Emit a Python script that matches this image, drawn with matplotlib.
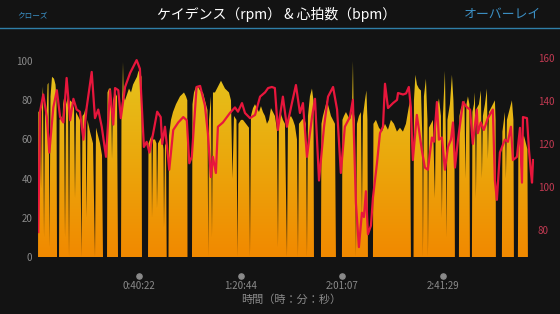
import numpy as np
import matplotlib
matplotlib.use("Agg")
import matplotlib.pyplot as plt
from matplotlib.colors import LinearSegmentedColormap
from matplotlib.patches import Polygon
from matplotlib.lines import Line2D
from matplotlib.transforms import blended_transform_factory

plt.rcParams['font.family'] = ['Noto Sans CJK JP', 'DejaVu Sans']

# cadence (rpm) - time in minutes
cad_t = [0.00, 0.12, 0.80, 1.20, 1.59, 1.99, 2.39, 2.79, 3.39, 3.79, 4.18, 4.58, 4.98, 5.58, 6.38, 6.97, 7.37, 7.57,
         8.37, 8.57, 9.17, 9.76, 10.08, 10.36, 10.76, 11.16, 11.96, 12.35, 12.75, 13.55, 14.35, 14.74, 15.14, 15.94,
         16.74, 17.33, 17.73, 18.33, 18.93, 19.33, 19.73, 20.72, 21.92, 22.71, 23.11, 23.91, 24.71, 25.50, 25.90,
         27.50, 27.70, 28.29, 29.09, 29.49, 29.89, 30.68, 31.48, 31.88,
         33.08, 33.27, 33.67, 33.87, 34.15, 34.67, 35.47, 36.26, 37.06, 37.87, 38.65, 39.45, 40.05, 40.65, 41.25, 41.44,
         43.84, 44.03, 44.63, 45.23, 45.43, 45.83, 46.62, 47.22, 47.42, 47.82, 48.62, 49.41, 50.01, 50.21, 50.61, 51.01, 51.29,
         52.00, 52.20, 53.00, 53.80, 54.99, 55.79, 56.59, 57.38, 58.18, 58.98, 59.50, 59.58,
         61.37, 61.57, 62.17, 62.96, 63.76, 64.56, 65.75, 66.55, 67.55, 67.86, 68.14, 68.94, 69.34, 69.74, 70.53, 71.33,
         72.13, 72.93, 73.72, 74.52, 75.32, 76.11, 76.91, 77.51, 78.11, 79.10, 79.50, 79.90, 80.90, 81.69, 82.89, 84.08,
         84.48, 84.88, 85.68, 86.47, 87.27, 88.07, 88.87, 89.66, 90.46, 91.26, 92.05, 92.85, 93.65, 94.44, 95.24, 95.64,
         96.04, 96.84, 97.63, 98.43, 99.23, 99.63, 100.82, 101.62, 102.41, 103.21, 103.61, 104.01, 105.20, 106.00, 106.80,
         107.20, 107.60, 108.39, 109.19, 109.79, 109.99,
         112.78, 112.98, 113.57, 114.37, 115.17, 115.96, 116.76, 117.56, 118.35, 118.75,
         121.14, 121.34, 121.94, 122.74, 123.53, 124.33, 125.13, 125.53, 125.80, 126.32, 126.72, 127.12, 127.92, 128.71,
         129.11, 129.51, 130.31, 130.90, 131.30, 131.50,
         133.50, 133.70, 134.69, 135.89, 137.08, 138.28, 139.48, 140.67, 141.87, 143.06, 144.26, 145.45, 146.65, 147.45,
         148.24, 148.64,
         149.68, 149.84, 150.43, 151.03, 151.83, 152.63, 153.22, 153.42, 153.82, 154.62, 155.22, 155.42, 155.81, 156.61,
         157.41, 158.20, 158.60, 159.40, 159.80, 160.60, 160.99, 161.39, 162.19, 162.59, 162.79, 163.19, 164.18, 164.98,
         165.58, 165.97, 166.17,
         167.77, 167.97, 168.57, 169.36, 169.96, 170.36, 170.76, 171.36, 171.95, 172.15,
         172.95, 173.15, 173.75, 174.14, 174.54, 174.94, 175.74, 176.54, 176.93, 177.33, 178.13, 178.93, 179.32, 179.72,
         180.52, 181.32, 182.11, 182.39, 182.51,
         184.90, 185.10, 185.70, 186.10, 186.50, 186.90, 187.69, 188.49, 188.89, 189.49, 189.69,
         191.28, 191.48, 192.08, 192.48, 192.87, 193.67, 194.47, 195.07, 195.27]
cad = [0, 74, 75, 35, 80, 87, 10, 76, 70, 88, 89, 5, 82, 92, 91, 88, 80, 0,
       0, 70, 72, 70, 81, 78, 10, 78, 82, 0, 80, 79, 76, 30, 74, 72,
       70, 0, 72, 73, 76, 20, 70, 64, 58, 0, 66, 62, 58, 52, 0,
       0, 84, 86, 86, 50, 80, 84, 82, 0,
       0, 75, 85, 99.5, 82, 80, 83, 86, 84, 88, 90, 92, 95, 94, 92, 0,
       0, 58, 60, 62, 20, 60, 60, 58, 25, 58, 60, 62, 55, 15, 58, 57, 0,
       0, 62, 70, 74, 78, 80, 82, 83, 84, 82, 80, 0,
       0, 78, 84, 87, 87, 85, 84, 80, 75, 0, 70, 82, 10, 84, 84, 86,
       88, 90, 88, 86, 85, 84, 80, 40, 72, 70, 0, 68, 70, 70, 68, 66,
       0, 72, 76, 78, 76, 74, 77, 74, 72, 68, 70, 76, 74, 72, 65, 5,
       72, 73, 70, 68, 0, 70, 72, 70, 67, 60, 0, 68, 70, 71, 68,
       0, 72, 82, 86, 80, 0,
       0, 68, 72, 76, 80, 76, 72, 70, 68, 0,
       0, 70, 72, 74, 72, 70, 74, 100, 74, 70, 0, 68, 72, 74,
       20, 72, 80, 85, 70, 0,
       0, 68, 70, 66, 64, 68, 65, 70, 68, 64, 66, 64, 68, 74,
       80, 0,
       0, 80, 93, 88, 86, 85, 60, 0, 82, 91, 70, 0, 66, 68,
       70, 30, 74, 78, 81, 72, 20, 72, 95, 60, 10, 70, 78, 93,
       80, 60, 0,
       0, 72, 76, 78, 80, 40, 78, 82, 78, 0,
       0, 74, 78, 84, 30, 76, 78, 85, 40, 72, 78, 86, 50, 74,
       76, 78, 80, 70, 0,
       0, 64, 70, 74, 40, 70, 74, 78, 80, 70, 0,
       0, 60, 62, 45, 60, 62, 58, 55, 0]

# heart rate (bpm)
hr_t = [0.1, 0.8, 2.1, 3.5, 4.5, 6.1, 7.5, 8.8, 10.1, 11.4, 12.8, 14.1, 15.4, 16.7, 18.1, 19.4, 21.4, 22.7, 24.0,
        25.4, 27.1, 28.7, 30.0, 30.7, 32.0, 33.0, 34.7, 36.7, 39.3, 40.6, 42.2, 43.3, 44.4, 45.9, 47.5, 48.9, 49.5,
        50.6, 51.3, 52.3, 53.9, 55.9, 57.9, 59.3, 60.3, 61.3, 63.2, 64.6, 66.5, 67.7, 68.9, 69.7, 70.9, 71.7, 73.7,
        76.5, 78.5, 79.7, 81.3, 82.5, 84.5, 86.5, 88.5, 90.5, 91.7, 93.2, 94.4, 95.6, 97.6, 99.2, 101.2, 102.8, 104.4,
        105.6, 107.2, 109.2, 110.4, 112.0, 114.0, 115.6, 117.6, 119.2, 120.7, 122.3, 124.3, 125.5, 126.7, 127.9, 129.1,
        129.9, 130.7, 131.5, 132.7, 133.5, 135.1, 136.3, 137.5, 138.3, 139.5, 141.5, 143.1, 143.5, 145.5, 146.7, 147.8,
        148.6, 149.4, 151.0, 153.0, 154.2, 155.4, 157.0, 157.8, 159.0, 159.8, 161.0, 162.2, 163.4, 164.6, 165.4, 166.2,
        167.4, 169.4, 171.0, 172.2, 173.3, 174.9, 175.3, 176.5, 177.7, 179.3, 181.3, 182.1, 182.9, 184.1, 186.1, 187.3,
        188.5, 189.3, 190.9, 192.1, 192.9, 193.3, 194.9, 195.7, 196.5, 196.9, 197.3]
hr = [79, 135, 143, 132.6, 116, 137, 145, 132.5, 130, 150.7, 131, 141, 136, 135, 122, 137, 153.5, 132, 136,
      128, 114, 145, 129, 146, 145, 132, 146.5, 153, 159, 155, 118.6, 121, 116, 125, 135, 132.5, 120,
      128, 120, 108, 126.5, 130, 132.5, 131, 111, 114, 146.5, 147, 138, 125, 104.6, 114, 106.5, 128, 130,
      134.4, 137, 135, 139, 134.4, 132, 133.5, 142, 144, 146, 146.5, 146, 126.5, 142, 128, 139, 147.4, 134.4,
      139, 114, 132.5, 141, 103, 128, 142, 146.5, 136, 106.5, 128, 132.5, 140.5, 92.6, 72, 88,
      86, 98, 78, 82, 95, 111, 125, 128, 148, 136.7, 139, 140.5, 143.7, 143, 143.5, 146.5,
      137, 112.5, 133.5, 117, 109, 108, 123, 121, 139.5, 122, 123, 108, 118.6, 122, 130, 109,
      122, 139.5, 137, 136, 120, 136, 125, 130, 126.5, 132, 136, 103, 94, 116, 122, 121,
      128, 112.5, 114, 127.5, 102, 132.5, 132, 117, 106.5, 102, 112.5]

tick_secs = [2422, 4844, 7267, 9689]
tick_labels = ['0:40:22', '1:20:44', '2:01:07', '2:41:29']
cad_ticks = [0, 20, 40, 60, 80, 100]
hr_ticks = [80, 100, 120, 140, 160]

bg = '#131313'
fig = plt.figure(figsize=(5.6, 3.14), dpi=100, facecolor=bg)

# header
fig.text(0.493, 1 - 14 / 314, 'ケイデンス（rpm） & 心拍数（bpm）', color='white',
         fontsize=10, ha='center', va='center')
fig.text(0.030, 1 - 15 / 314, 'クローズ', color='#3a8fc4', fontsize=5.5, ha='left', va='center')
fig.text(0.966, 1 - 14 / 314, 'オーバーレイ', color='#3b8ec2', fontsize=9.3, ha='right', va='center')
fig.add_artist(Line2D([0, 1], [1 - 27.5 / 314] * 2, transform=fig.transFigure, color='#2f7fa8', lw=1))

ax = fig.add_axes([0.0679, 0.1815, 0.8848, 0.675])
ax.set_facecolor(bg)
xmax = 197.5

# gradient filled cadence
verts = list(zip(cad_t, cad)) + [(cad_t[-1], 0), (cad_t[0], 0)]
poly = Polygon(verts, facecolor='none', edgecolor='none')
ax.add_patch(poly)
cmap = LinearSegmentedColormap.from_list('cad', ['#f18900', '#eba80c', '#e4c51e'])
im = ax.imshow(np.linspace(0, 1, 256).reshape(-1, 1), extent=[0, xmax, 0, 100], origin='lower',
               aspect='auto', cmap=cmap, interpolation='bilinear')
im.set_clip_path(poly)

ax.set_xlim(0, xmax)
ax.set_ylim(0, 108.2)
ax.set_yticks(cad_ticks)
ax.tick_params(axis='y', length=0, pad=4, labelcolor='#8a8a8a', labelsize=7)
tick_min = [s / 60 for s in tick_secs]
ax.set_xticks(tick_min)
ax.set_xticklabels(tick_labels)
ax.tick_params(axis='x', length=0, pad=17.5, labelcolor='#8a8a8a', labelsize=7)
for s in ax.spines.values():
    s.set_visible(False)

trans = blended_transform_factory(ax.transData, ax.transAxes)
ax.scatter(tick_min, [-0.09] * len(tick_min), s=14, color='#8a8a8a', transform=trans, clip_on=False)

fig.text(291 / 560, 1 - 300 / 314, '時間（時：分：秒）', color='#8a8a8a', fontsize=8, ha='center', va='center')

ax2 = ax.twinx()
ax2.plot(hr_t, hr, color='#e8163c', lw=1.6)
ax2.set_ylim(67.4, 166.0)
ax2.set_xlim(0, xmax)
ax2.set_yticks(hr_ticks)
ax2.tick_params(axis='y', length=0, pad=3, labelcolor='#c23a52', labelsize=7)
for s in ax2.spines.values():
    s.set_visible(False)

fig.savefig('out.png', dpi=100, facecolor=bg)
